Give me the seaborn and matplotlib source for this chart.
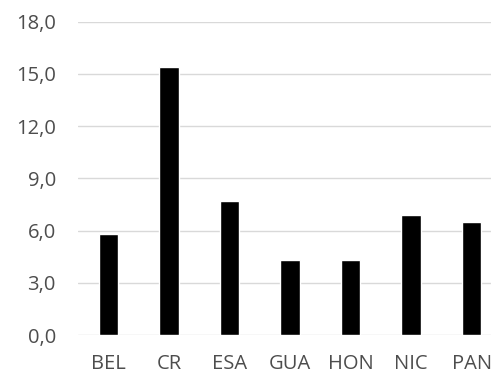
import matplotlib
matplotlib.use("Agg")
import matplotlib.pyplot as plt
from matplotlib.ticker import FuncFormatter
import seaborn as sns
import pandas as pd

countries = ["BEL", "CR", "ESA", "GUA", "HON", "NIC", "PAN"]
values = [5.8, 15.4, 7.7, 4.3, 4.3, 6.9, 6.5]
yticks = [0, 3, 6, 9, 12, 15, 18]

df = pd.DataFrame({"pais": countries, "valor": values})

sns.set_theme(style="white")
plt.rcParams["font.family"] = ["Open Sans", "DejaVu Sans"]

fig = plt.figure(figsize=(4.91, 3.77), dpi=100)
ax = fig.add_axes([78 / 491, 42 / 377, 424 / 491, 313.3 / 377])

sns.barplot(data=df, x="pais", y="valor", color="black", width=0.32,
            saturation=1, ax=ax, zorder=3)

ax.set_ylim(0, 18)
ax.set_yticks(yticks)
ax.yaxis.set_major_formatter(FuncFormatter(lambda v, _: f"{v:.1f}".replace(".", ",")))
ax.grid(axis="y", color="#d9d9d9", linewidth=1.0, zorder=0)
ax.set_axisbelow(True)
for s in ax.spines.values():
    s.set_visible(False)
ax.set_xlabel("")
ax.set_ylabel("")
ax.tick_params(axis="both", length=0, labelsize=14.5, colors="#4d4d4d")
ax.tick_params(axis="y", pad=16)
ax.tick_params(axis="x", pad=14)

fig.savefig("out.png", dpi=100)
